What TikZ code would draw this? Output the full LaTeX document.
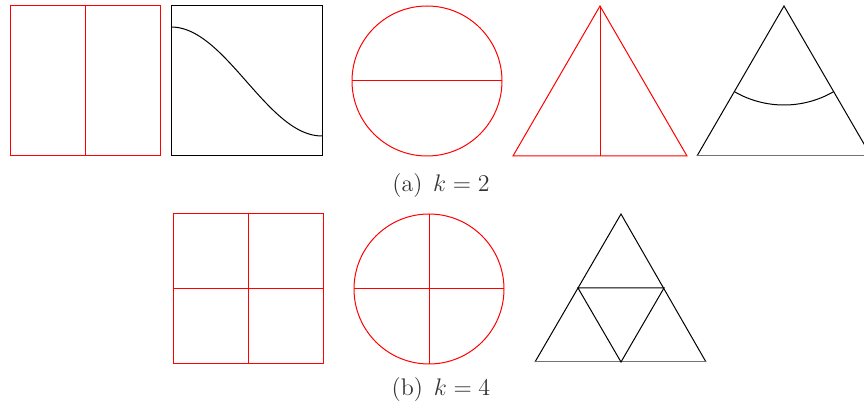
\documentclass[tikz,border=0pt]{standalone}
\begin{document}
\begin{tikzpicture}[x=0.5pt,y=-0.5pt,
  redline/.style={draw=red,line width=0.5pt},
  blackline/.style={draw=black,line width=0.5pt},
  baseline/.style={draw=black!55,line width=0.5pt},
  caption/.style={font=\fontsize{12}{14}\selectfont,text=black!80,inner sep=0pt}]
\useasboundingbox (0,0) rectangle (864,406);
\clip (0,0) rectangle (864,406);
% (a) k=2
\draw[redline] (10,6) rectangle (160,156);
\draw[redline] (85,6) -- (85,156);
\draw[blackline] (171,6) rectangle (322,156);
\draw[blackline] plot[domain=0:1,samples=80] ({171+151*\x},{81.5-54.5*cos(180*\x)});
\draw[redline] (427,81) circle[radius=75];
\draw[redline] (352,81) -- (502,81);
\draw[redline] (600,6) -- (687,156) -- (513,156) -- cycle;
\draw[redline] (600,6) -- (600,156);
\coordinate (apex) at (784,6);
\draw[blackline] (697,156) -- (apex) -- (871,156);
\draw[baseline] (697,156) -- (871,156);
\draw[blackline] (apex) ++(120:99) arc[start angle=120,end angle=60,radius=99];
\node[caption] (capa) at (441,186) {(a)\hspace{0.45em}$k=2$};
% (b) k=4
\draw[redline] (173,214) rectangle (323,364);
\draw[redline] (248,214) -- (248,364);
\draw[redline] (173,289) -- (323,289);
\draw[redline] (429,289) circle[radius=75];
\draw[redline] (354,289) -- (504,289);
\draw[redline] (429,214) -- (429,364);
\draw[blackline] (535,362) -- (621,214) -- (706,362);
\draw[baseline] (535,362) -- (706,362);
\draw[blackline] (578,288) -- (664,288) -- (621,362) -- cycle;
\node[caption] (capb) at (441,390) {(b)\hspace{0.45em}$k=4$};
\end{tikzpicture}
\end{document}
